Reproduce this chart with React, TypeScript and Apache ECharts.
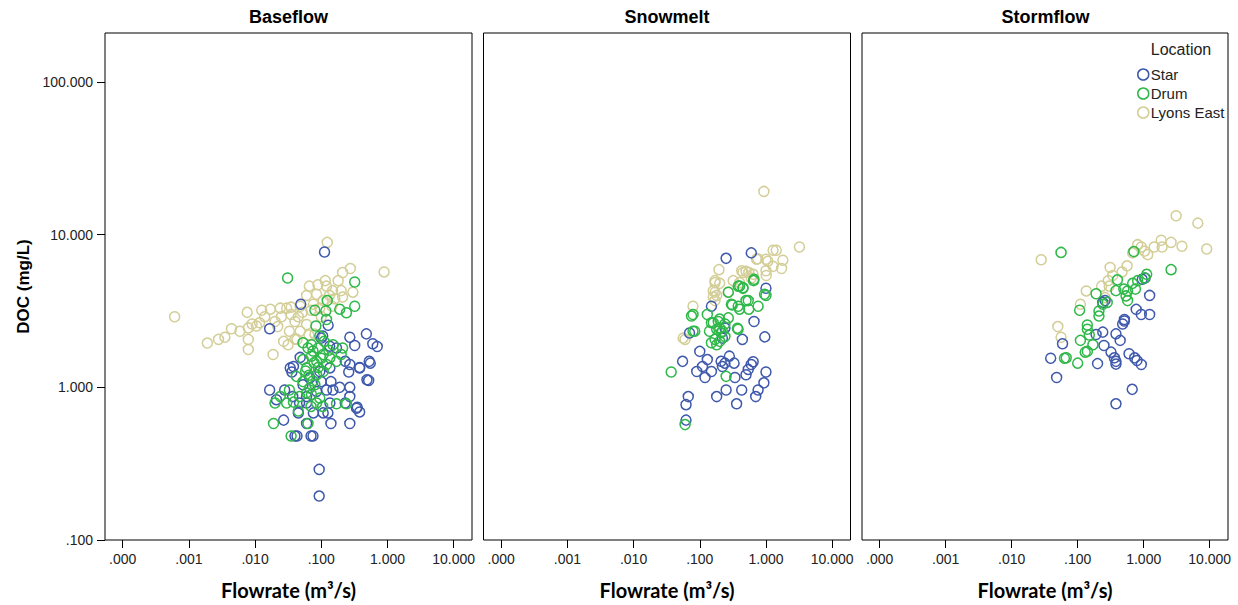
import React, { useEffect, useRef } from "react";
import * as echarts from "echarts";

// ---------- data: [flowrate (m³/s), DOC (mg/L)] ----------
const panels = ["Baseflow", "Snowmelt", "Stormflow"];
const locations = ["Star", "Drum", "Lyons East"];
const xTicks = [0.0001, 0.001, 0.01, 0.1, 1, 10];
const yTicks = [0.1, 1, 10, 100];

const baseflowStar = [
  [0.112, 7.7], [0.049, 3.5], [0.0166, 2.42], [0.127, 2.55], [0.1, 2.1], [0.48, 2.24], [0.27, 2.13],
  [0.6, 1.93], [0.7, 1.85], [0.32, 1.88], [0.55, 1.44], [0.38, 1.35], [0.26, 1.26], [0.27, 1.41],
  [0.38, 1.34], [0.53, 1.48], [0.49, 1.12], [0.52, 1.11], [0.27, 1.0], [0.27, 0.87], [0.19, 1.0],
  [0.15, 0.96], [0.12, 0.96], [0.14, 1.09], [0.0166, 0.96], [0.028, 0.96], [0.038, 1.37], [0.036, 1.26],
  [0.048, 1.57], [0.034, 1.34], [0.34, 0.73], [0.38, 0.69], [0.35, 0.74], [0.27, 0.58], [0.14, 0.58],
  [0.06, 0.58], [0.027, 0.61], [0.04, 0.48], [0.043, 0.48], [0.07, 0.48], [0.075, 0.48], [0.093, 0.29],
  [0.093, 0.194], [0.076, 0.68], [0.107, 0.68], [0.126, 0.68], [0.135, 0.79], [0.23, 0.79], [0.06, 0.79],
  [0.047, 0.79], [0.037, 0.87], [0.085, 0.94], [0.1, 1.09], [0.095, 1.27], [0.135, 1.34], [0.23, 1.48],
  [0.17, 1.81], [0.134, 1.86], [0.105, 2.17], [0.021, 0.83], [0.045, 0.68], [0.06, 0.87], [0.067, 1.15],
  [0.053, 1.04],
];
const baseflowDrum = [
  [0.031, 5.2], [0.32, 4.9], [0.32, 3.4], [0.24, 3.08], [0.19, 3.25], [0.123, 3.7], [0.117, 3.16],
  [0.08, 3.2], [0.12, 2.78], [0.083, 2.52], [0.053, 1.96], [0.063, 1.81], [0.019, 0.58], [0.035, 0.48],
  [0.063, 0.58], [0.02, 0.79], [0.024, 0.87], [0.03, 0.79], [0.045, 0.7], [0.033, 0.96], [0.085, 0.79],
  [0.105, 0.75], [0.17, 0.78], [0.24, 0.78], [0.042, 1.18], [0.053, 1.52], [0.06, 1.34], [0.075, 1.73],
  [0.107, 1.64], [0.15, 1.9], [0.2, 1.64], [0.21, 1.81], [0.095, 2.17], [0.071, 1.9], [0.085, 1.48],
  [0.12, 1.41], [0.053, 1.09], [0.067, 0.99], [0.047, 0.87], [0.06, 0.92], [0.071, 0.9], [0.085, 1.21],
  [0.08, 1.04], [0.107, 1.27], [0.135, 1.56], [0.17, 1.48], [0.071, 1.6], [0.09, 1.81], [0.065, 1.2],
  [0.075, 1.1], [0.09, 1.35], [0.1, 1.55], [0.078, 1.45], [0.058, 1.28], [0.11, 2.0], [0.13, 1.75],
  [0.095, 0.85], [0.07, 0.75], [0.038, 0.8],
];
const baseflowLyons = [
  [0.00061, 2.9], [0.0019, 1.95], [0.0028, 2.06], [0.0035, 2.13], [0.0044, 2.42], [0.0059, 2.33],
  [0.0079, 2.45], [0.0076, 3.1], [0.0079, 2.06], [0.0079, 1.77], [0.0105, 2.52], [0.0117, 2.65],
  [0.0126, 3.2], [0.017, 3.25], [0.02, 2.7], [0.024, 3.3], [0.03, 3.3], [0.035, 3.35], [0.048, 3.4],
  [0.0187, 1.64], [0.0316, 1.9], [0.043, 2.06], [0.048, 2.33], [0.06, 2.58], [0.035, 3.0], [0.06, 4.0],
  [0.066, 4.6], [0.076, 3.5], [0.085, 4.07], [0.089, 4.7], [0.107, 3.7], [0.115, 5.0], [0.123, 8.9],
  [0.133, 4.0], [0.145, 3.4], [0.148, 4.3], [0.18, 5.0], [0.2, 4.3], [0.21, 5.65], [0.21, 3.9],
  [0.275, 6.0], [0.3, 4.2], [0.89, 5.7], [0.025, 2.9], [0.04, 2.7], [0.052, 3.1], [0.07, 3.2],
  [0.095, 3.3], [0.12, 4.6], [0.16, 3.8], [0.1, 2.9], [0.065, 2.2], [0.022, 2.5], [0.045, 2.9],
  [0.014, 2.9], [0.009, 2.6], [0.027, 2.0], [0.033, 2.33], [0.04, 2.07], [0.08, 2.23],
];

const snowmeltStar = [
  [0.25, 7.0], [0.6, 7.6], [1.0, 4.46], [0.15, 3.4], [0.66, 2.7], [0.96, 2.14], [0.07, 2.27],
  [0.44, 2.06], [0.1, 1.72], [0.055, 1.48], [0.13, 1.52], [0.11, 1.37], [0.09, 1.27], [0.15, 1.27],
  [0.12, 1.16], [0.21, 1.48], [0.24, 1.44], [0.33, 1.44], [0.28, 1.6], [0.22, 1.37], [0.34, 1.16],
  [0.5, 1.21], [0.64, 1.47], [0.6, 1.41], [0.54, 1.31], [1.0, 1.26], [0.93, 1.07], [0.43, 0.96],
  [0.76, 0.96], [0.7, 0.87], [0.25, 0.96], [0.18, 0.87], [0.36, 0.78], [0.067, 0.87], [0.062, 0.77],
  [0.062, 0.61], [0.24, 2.45], [0.22, 2.1],
];
const snowmeltDrum = [
  [0.65, 5.0], [0.95, 4.07], [0.38, 4.6], [0.45, 4.5], [0.27, 4.2], [0.4, 4.6], [0.45, 4.45],
  [0.66, 5.1], [0.3, 3.5], [0.38, 3.4], [0.4, 3.25], [0.5, 3.7], [0.55, 3.25], [0.76, 3.4],
  [0.079, 3.0], [0.13, 3.0], [0.16, 2.65], [0.19, 2.7], [0.2, 2.45], [0.27, 2.85], [0.38, 2.4],
  [0.079, 2.33], [0.14, 2.33], [0.22, 2.33], [0.24, 2.15], [1.0, 4.0], [0.075, 2.93], [0.31, 3.46],
  [0.54, 3.7], [0.15, 2.65], [0.2, 2.8], [0.24, 2.6], [0.18, 2.4], [0.21, 2.28], [0.37, 2.44],
  [0.084, 2.33], [0.17, 2.06], [0.2, 2.0], [0.15, 1.96], [0.18, 1.9], [0.037, 1.26], [0.25, 1.18],
  [0.06, 0.57],
];
const snowmeltLyons = [
  [0.93, 19.2], [3.2, 8.3], [1.28, 7.9], [1.43, 7.9], [0.72, 6.9], [1.07, 6.7], [1.8, 6.8], [1.28, 6.2],
  [1.72, 6.0], [1.0, 5.8], [1.01, 5.4], [0.195, 5.9], [0.43, 5.8], [0.5, 5.75], [0.64, 5.5], [0.32, 5.0],
  [0.17, 5.0], [0.2, 4.8], [0.16, 4.3], [0.18, 4.0], [0.17, 4.85], [0.45, 5.65], [0.55, 5.65], [0.6, 5.2],
  [0.4, 4.85], [0.27, 4.2], [0.17, 4.2], [0.16, 3.9], [0.17, 3.7], [0.079, 3.4], [1.0, 6.9], [0.75, 6.95],
  [0.056, 2.1], [0.06, 2.06],
];

const stormflowStar = [
  [0.95, 5.1], [1.05, 5.2], [1.23, 4.0], [0.24, 3.6], [0.26, 3.7], [0.77, 3.24], [0.92, 3.0], [1.23, 3.0],
  [0.51, 2.78], [0.51, 2.72], [0.48, 2.6], [0.24, 2.3], [0.19, 2.22], [0.38, 2.24], [0.44, 2.03],
  [0.059, 1.93], [0.25, 1.88], [0.32, 1.7], [0.36, 1.56], [0.38, 1.48], [0.38, 1.42], [0.6, 1.66],
  [0.73, 1.56], [0.79, 1.5], [0.92, 1.41], [0.2, 1.43], [0.039, 1.55], [0.048, 1.16], [0.67, 0.97],
  [0.38, 0.78],
];
const stormflowDrum = [
  [0.056, 7.65], [0.71, 7.75], [2.6, 5.9], [1.11, 5.5], [1.03, 5.2], [0.81, 5.0], [0.68, 4.8], [0.4, 5.06],
  [0.5, 4.4], [0.57, 4.28], [0.75, 4.4], [0.38, 4.3], [0.54, 3.97], [0.57, 3.7], [0.19, 4.1], [0.28, 3.6],
  [0.24, 3.5], [0.107, 3.2], [0.21, 3.16], [0.21, 2.93], [0.14, 2.56], [0.14, 2.4], [0.15, 2.2],
  [0.17, 1.9], [0.14, 1.72], [0.13, 1.7], [0.11, 2.03], [0.067, 1.56], [0.063, 1.55], [0.1, 1.44],
];
const stormflowLyons = [
  [0.028, 6.85], [3.1, 13.3], [6.6, 11.9], [9.0, 8.05], [2.6, 8.9], [3.8, 8.4], [1.84, 9.2], [1.9, 8.3],
  [1.44, 8.3], [0.81, 8.6], [0.92, 8.3], [1.03, 7.8], [1.15, 7.4], [0.68, 7.6], [0.56, 6.25], [0.47, 5.7],
  [0.31, 6.1], [0.34, 5.4], [0.29, 5.0], [0.23, 4.6], [0.3, 4.6], [0.26, 3.87], [0.135, 4.28], [0.11, 3.5],
  [0.05, 2.5], [0.056, 2.13],
];

const panelData = [
  { Star: baseflowStar, Drum: baseflowDrum, "Lyons East": baseflowLyons },
  { Star: snowmeltStar, Drum: snowmeltDrum, "Lyons East": snowmeltLyons },
  { Star: stormflowStar, Drum: stormflowDrum, "Lyons East": stormflowLyons },
];

const COLORS: Record<string, string> = {
  Star: "#3E58AC",
  Drum: "#2EB848",
  "Lyons East": "#D3CE97",
};

const fmt = (v: number) => v.toFixed(3).replace(/^0\./, ".");

export default function App() {
  const ref = useRef<HTMLDivElement>(null);

  useEffect(() => {
    if (!ref.current) return;
    const chart = echarts.init(ref.current, null, { renderer: "svg" });

    const gridLefts = [105, 483.5, 862];
    const gridW = 367;
    const top = 33;
    const height = 507;
    const xMin = Math.pow(10, -4.267);
    const xMax = Math.pow(10, 1.277);
    const yMin = 0.1;
    const yMax = Math.pow(10, 2.321);
    const labelFont = "'Liberation Sans', Arial, sans-serif";

    const grid = gridLefts.map((l, i) => ({
      left: l,
      top,
      width: i === 2 ? 366 : gridW,
      height,
      show: true,
      borderColor: "#000",
      borderWidth: 1,
      backgroundColor: "transparent",
    }));

    const xAxis = gridLefts.map((_, i) => ({
      type: "log",
      logBase: 10,
      gridIndex: i,
      min: xMin,
      max: xMax,
      axisLine: { show: false },
      axisTick: { show: true, customValues: xTicks, length: 8, lineStyle: { color: "#000", width: 1 } },
      axisLabel: {
        customValues: xTicks,
        formatter: (v: number) => fmt(v),
        margin: 12,
        fontSize: 14,
        color: "#222",
        fontFamily: labelFont,
      },
      splitLine: { show: false },
      minorTick: { show: false },
      name: "Flowrate (m³/s)",
      nameLocation: "middle",
      nameGap: 40,
      nameTextStyle: { fontSize: 20, fontWeight: "bold", color: "#000", fontFamily: "Lato, 'Open Sans', sans-serif" },
    }));

    const yAxis = gridLefts.map((_, i) => ({
      type: "log",
      logBase: 10,
      gridIndex: i,
      min: yMin,
      max: yMax,
      axisLine: { show: false },
      axisTick: i === 0
        ? { show: true, customValues: yTicks, length: 8, lineStyle: { color: "#000", width: 1 } }
        : { show: false },
      axisLabel: i === 0
        ? {
            customValues: yTicks,
            formatter: (v: number) => fmt(v),
            margin: 12,
            fontSize: 14,
            color: "#222",
            fontFamily: labelFont,
          }
        : { show: false },
      splitLine: { show: false },
      minorTick: { show: false },
      name: i === 0 ? "DOC (mg/L)" : "",
      nameLocation: "middle",
      nameGap: 73,
      nameTextStyle: { fontSize: 17, fontWeight: "bold", color: "#000", fontFamily: labelFont },
    }));

    const drawOrder = ["Lyons East", "Star", "Drum"];
    const series: any[] = [];
    panelData.forEach((pd: any, i) => {
      drawOrder.forEach((loc) => {
        series.push({
          type: "scatter",
          name: loc,
          xAxisIndex: i,
          yAxisIndex: i,
          data: pd[loc],
          symbol: "circle",
          symbolSize: 10,
          itemStyle: { color: "rgba(255,255,255,0)", borderColor: COLORS[loc], borderWidth: 1.5, opacity: 1 },
          emphasis: { disabled: true },
          silent: true,
        });
      });
    });

    const graphic: any[] = panels.map((p, i) => ({
      type: "text",
      x: gridLefts[i] + gridW / 2,
      y: 17,
      style: {
        text: p,
        fill: "#000",
        font: `bold 18px ${labelFont}`,
        align: "center",
        verticalAlign: "middle",
      },
    }));
    graphic.push({
      type: "text",
      x: 1181,
      y: 49,
      style: {
        text: "Location",
        fill: "#222",
        font: `16px ${labelFont}`,
        align: "center",
        verticalAlign: "middle",
      },
    });

    chart.setOption({
      animation: false,
      backgroundColor: "#fff",
      grid,
      xAxis,
      yAxis,
      series,
      graphic,
      legend: {
        orient: "vertical",
        left: 1137,
        top: 67,
        padding: 0,
        itemGap: 4,
        itemWidth: 11,
        itemHeight: 11,
        textStyle: { fontSize: 15, color: "#222", fontFamily: labelFont, padding: [0, 0, 0, -3] },
        selectedMode: false,
        data: locations.map((l) => ({
          name: l,
          icon: "circle",
          itemStyle: { color: "rgba(255,255,255,0)", borderColor: COLORS[l], borderWidth: 1.5 },
        })),
      },
    });

    return () => chart.dispose();
  }, []);

  return (
    <div
      ref={ref}
      style={{ position: "absolute", left: 0, top: 0, width: 1238, height: 605 }}
    />
  );
}
